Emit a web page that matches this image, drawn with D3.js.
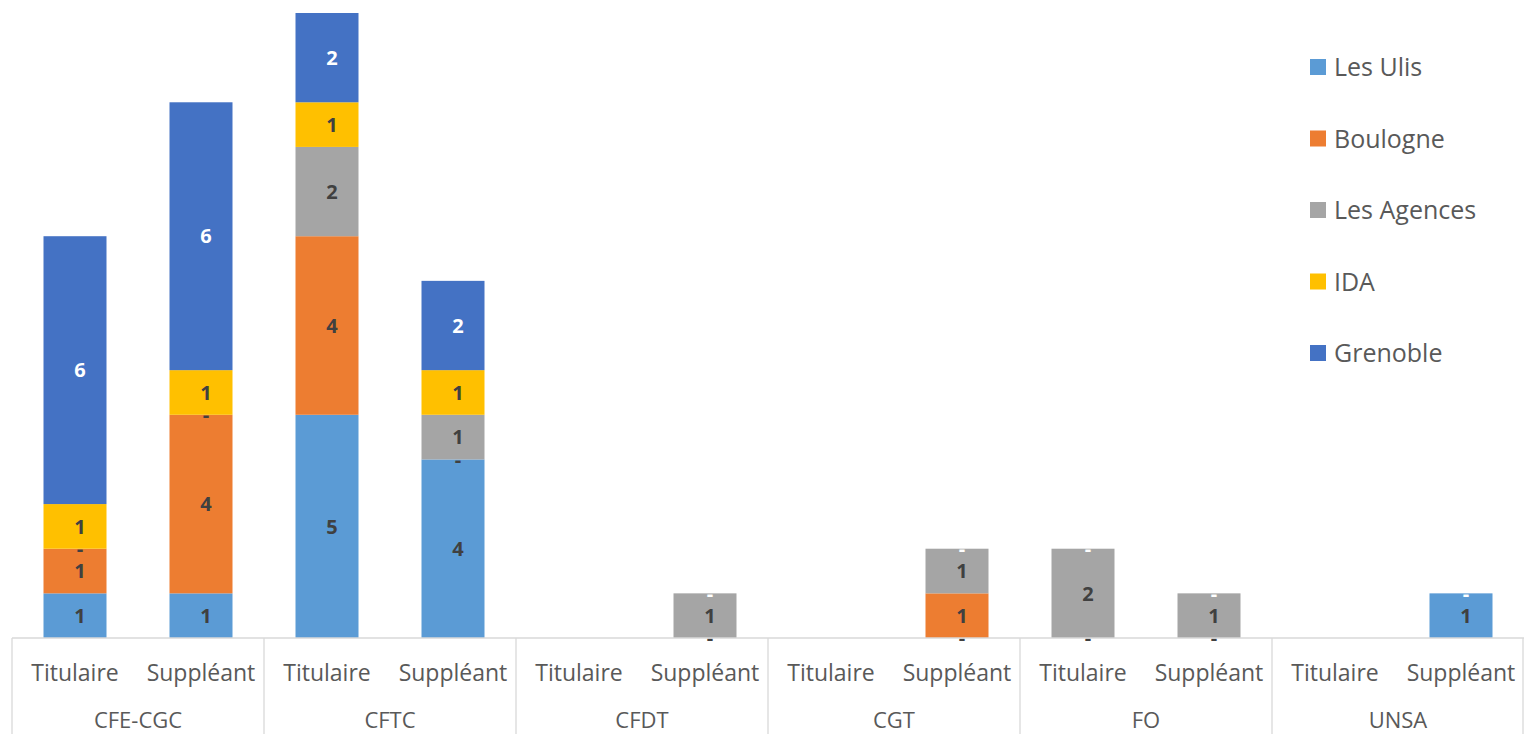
<!DOCTYPE html>
<html lang="fr">
<meta charset="utf-8"/>
<style>
  body { margin: 0; background: #fff; }
  text { font-family: "Open Sans", sans-serif; }
</style>
<body>
<svg id="chart" width="1524" height="734"></svg>
<script src="https://d3js.org/d3.v7.min.js"></script>
<script>
// data
let groups = ["CFE-CGC", "CFTC", "CFDT", "CGT", "FO", "UNSA"]
let roles = ["Titulaire", "Suppléant"]
let sites = ["Les Ulis", "Boulogne", "Les Agences", "IDA", "Grenoble"]
let colors = ["#5B9BD5", "#ED7D31", "#A5A5A5", "#FFC000", "#4472C4"]
let lesUlis   = [1, 1, 5, 4, 0, 0, 0, 0, 0, 0, 0, 1]
let boulogne  = [1, 4, 4, 0, 0, 0, 0, 1, 0, 0, 0, 0]
let agences   = [0, 0, 2, 1, 0, 1, 0, 1, 2, 1, 0, 0]
let ida       = [1, 1, 1, 1, 0, 0, 0, 0, 0, 0, 0, 0]
let grenoble  = [6, 6, 2, 2, 0, 0, 0, 0, 0, 0, 0, 0]

let series = [lesUlis, boulogne, agences, ida, grenoble]
let rows = []
groups.forEach((g, gi) => roles.forEach((r, ri) => {
  let i = gi * 2 + ri
  let row = {key: g + "|" + r, group: g, role: r}
  sites.forEach((s, si) => row[s] = series[si][i])
  rows.push(row)
}))

let svg = d3.select("#chart")
let plotLeft = 12, plotRight = 1524, base = 638, plotTop = 13

let x = d3.scaleBand().domain(rows.map(d => d.key)).range([plotLeft, plotRight]).paddingInner(0.5).paddingOuter(0.25)
let xg = d3.scaleBand().domain(groups).range([plotLeft, plotRight])
let y = d3.scaleLinear().domain([0, 14]).range([base, plotTop])
let color = d3.scaleOrdinal().domain(sites).range(colors)

let stack = d3.stack().keys(sites)(rows)

let layer = svg.append("g").selectAll("g")
  .data(stack).enter().append("g")
  .attr("fill", d => color(d.key))

layer.selectAll("rect")
  .data(d => d).enter().append("rect")
  .attr("x", d => x(d.data.key))
  .attr("width", x.bandwidth())
  .attr("y", d => y(d[1]))
  .attr("height", d => y(d[0]) - y(d[1]))

// data labels ("-" for zero values, like the Excel format);
// zeros sitting at the same height show only the top one
let keepLabel = (si, p, i) => {
  if (d3.sum(sites, s => p.data[s]) == 0) return false
  let v = p[1] - p[0]
  if (v != 0) return true
  return si == sites.length - 1 || series[si + 1][i] != 0
}
svg.append("g").selectAll("g")
  .data(stack).enter().append("g")
  .attr("fill", d => d.key == "Grenoble" ? "#ffffff" : "#404040")
  .selectAll("text")
  .data(d => d.filter((p, i) => keepLabel(d.index, p, i))).enter().append("text")
  .attr("x", d => x(d.data.key) + x.bandwidth() / 2 + 5)
  .attr("y", d => y((d[0] + d[1]) / 2))
  .attr("dy", "0.36em")
  .attr("text-anchor", "middle")
  .attr("font-size", 20)
  .attr("font-weight", "bold")
  .text(d => (d[1] - d[0]) == 0 ? "-" : (d[1] - d[0]))

// category axis
let axis = svg.append("g").attr("stroke", "#d9d9d9").attr("stroke-width", 1.3)
axis.append("line").attr("x1", plotLeft).attr("x2", plotRight).attr("y1", base).attr("y2", base)
axis.selectAll("line.sep")
  .data(groups.concat(["end"])).enter().append("line")
  .attr("class", "sep")
  .attr("x1", d => d == "end" ? plotRight - 1 : xg(d))
  .attr("x2", d => d == "end" ? plotRight - 1 : xg(d))
  .attr("y1", base).attr("y2", 734)

svg.append("g").selectAll("text")
  .data(rows).enter().append("text")
  .attr("x", d => x(d.key) + x.bandwidth() / 2)
  .attr("y", 681)
  .attr("text-anchor", "middle")
  .attr("font-size", 23)
  .attr("font-weight", 500)
  .attr("fill", "#595959")
  .text(d => d.role)

svg.append("g").selectAll("text")
  .data(groups).enter().append("text")
  .attr("x", d => xg(d) + xg.bandwidth() / 2)
  .attr("y", 728)
  .attr("text-anchor", "middle")
  .attr("font-size", 22)
  .attr("font-weight", 500)
  .attr("fill", "#595959")
  .text(d => d)

// legend
let legend = svg.append("g").selectAll("g")
  .data(sites).enter().append("g")
  .attr("transform", (d, i) => "translate(1310," + (67 + i * 71.5) + ")")
legend.append("rect").attr("x", 0).attr("y", -8).attr("width", 16).attr("height", 16).attr("fill", d => color(d))
legend.append("text").attr("x", 24).attr("dy", "0.36em").attr("font-size", 25).attr("font-weight", 500).attr("fill", "#595959").text(d => d)
</script>
</body>
</html>
